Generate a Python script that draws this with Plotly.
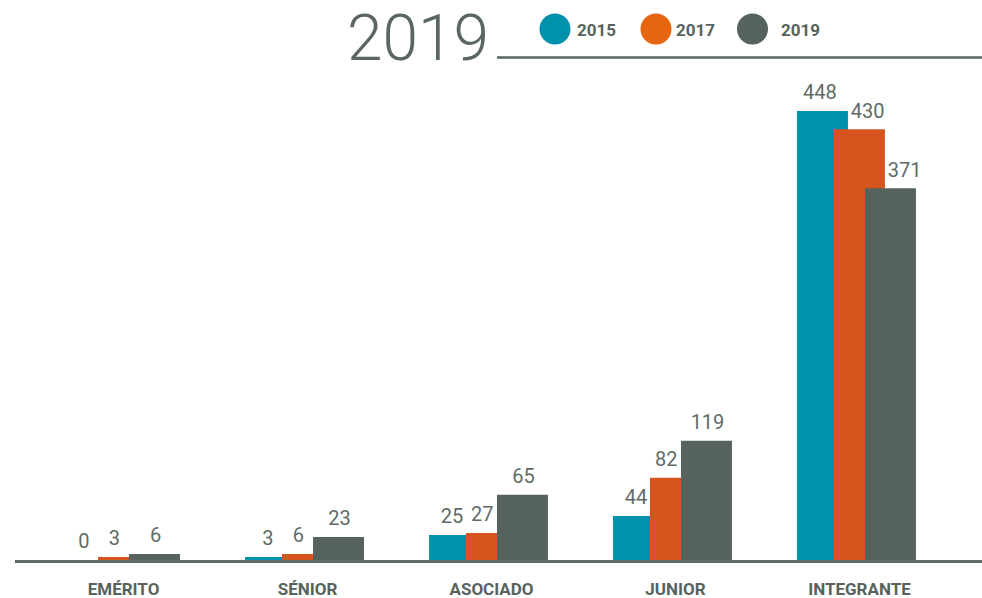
import plotly.graph_objects as go

categories = ["EMÉRITO", "SÉNIOR", "ASOCIADO", "JUNIOR", "INTEGRANTE"]
series_names = ["2015", "2017", "2019"]
values_2015 = [0, 3, 25, 44, 448]
values_2017 = [3, 6, 27, 82, 430]
values_2019 = [6, 23, 65, 119, 371]
title_text = "2019"

series_values = [values_2015, values_2017, values_2019]
bar_colors = ["#0092ad", "#d6551e", "#56635d"]
legend_colors = ["#0092ad", "#e8650f", "#56635d"]
BAR_W = 0.277
bar_offsets = [-0.3397, -0.1386, 0.0299]
label_default_shift = [-0.215, -0.05, 0.174]

W, H = 982, 598
ML, MR, MT, MB = 15, 0, 60, 38
PW, PH = W - ML - MR, H - MT - MB
X0, XMAX = -0.590, 4.666
UNIT_PX = PW / (XMAX - X0)
LABEL_SIZE = 20

def px(x):
    return (x - ML) / PW

def py(y):
    return (H - MB - y) / PH

GRAY = "#56635d"
LABEL = "#5f6b66"
FONT = "Roboto, Arial, sans-serif"

idx = list(range(len(categories)))
fig = go.Figure()
for name, vals, col, off in zip(series_names, series_values, bar_colors, bar_offsets):
    fig.add_trace(go.Bar(x=idx, y=vals, name=name, width=BAR_W, offset=off,
                         marker=dict(color=col, line=dict(width=0)),
                         showlegend=False, hoverinfo="skip"))

# value labels: centred over the visible part; pushed right when the bar on the left is taller
for s, (name, vals) in enumerate(zip(series_names, series_values)):
    xs = []
    for i, v in enumerate(vals):
        sh = label_default_shift[s]
        if s > 0 and series_values[s - 1][i] > v:
            half_w = len(str(v)) * 0.56 * LABEL_SIZE / 2
            left_end = bar_offsets[s - 1] + BAR_W
            sh = max(sh, left_end + (half_w + 3) / UNIT_PX)
        xs.append(i + sh)
    fig.add_trace(go.Scatter(x=xs, y=vals, mode="markers+text",
                             marker=dict(size=9, color="rgba(0,0,0,0)"),
                             text=[str(v) for v in vals], textposition="top center",
                             textfont=dict(family=FONT, size=LABEL_SIZE, color=LABEL),
                             showlegend=False, hoverinfo="skip", cliponaxis=False))

shapes = [dict(type="line", xref="paper", yref="paper", x0=px(497), x1=px(982),
               y0=py(57.5), y1=py(57.5), line=dict(color="#5a6661", width=2.5))]
annotations = [dict(text=title_text, xref="paper", yref="paper", x=px(418), y=py(0),
                    xanchor="center", yanchor="top", showarrow=False, borderpad=0,
                    font=dict(family=FONT, size=64, color="#5a6661", weight=300))]
leg_cx = [555, 656, 752.5]
leg_tx = [575, 674, 778.5]
for name, col, cx, tx in zip(series_names, legend_colors, leg_cx, leg_tx):
    shapes.append(dict(type="circle", xref="paper", yref="paper",
                       x0=px(cx - 15.5), x1=px(cx + 15.5), y0=py(29 + 15.5), y1=py(29 - 15.5),
                       fillcolor=col, line=dict(width=0)))
    annotations.append(dict(text="<b>" + name + "</b>", xref="paper", yref="paper",
                            x=px(tx), y=py(30), xanchor="left", yanchor="middle",
                            showarrow=False,
                            font=dict(family=FONT, size=17, color=GRAY)))

fig.update_layout(
    width=W, height=H, barmode="overlay",
    margin=dict(l=ML, r=MR, t=MT, b=MB, pad=0),
    paper_bgcolor="white", plot_bgcolor="white",
    xaxis=dict(range=[X0, XMAX], tickvals=idx,
               ticktext=["<b>" + c + "</b>" for c in categories],
               showgrid=False, zeroline=False, showline=True, linecolor="#5f6a65", linewidth=3,
               ticks="outside", ticklen=12, tickcolor="rgba(0,0,0,0)",
               tickfont=dict(family=FONT, size=17, color=GRAY), fixedrange=True,
               automargin=False),
    yaxis=dict(range=[0, 499], visible=False, fixedrange=True),
    shapes=shapes, annotations=annotations,
)
fig.write_html("out.html", config={"displayModeBar": False},
               post_script="document.body.style.margin='0';")
